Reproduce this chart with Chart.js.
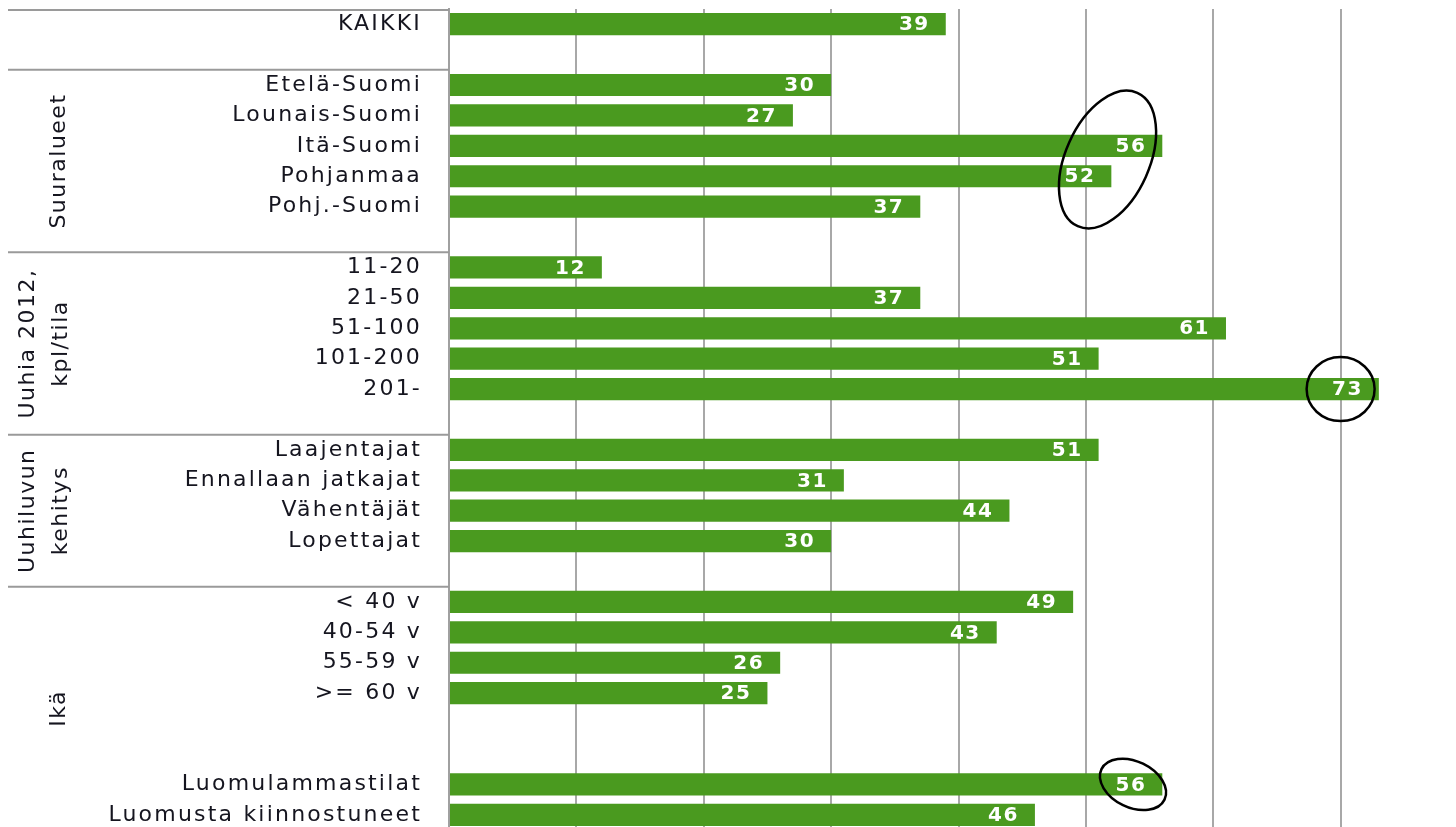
<!DOCTYPE html>
<html>
<head>
<meta charset="utf-8">
<script src="https://cdn.jsdelivr.net/npm/chart.js@4.4.0/dist/chart.umd.min.js"></script>
<style>
  html, body { margin:0; padding:0; background:#fff; overflow:hidden; }
  #wrap { width:1468px; height:830px; }
</style>
</head>
<body>
<div id="wrap"><canvas id="lammas_chart" width="1468" height="830"></canvas></div>
<script>
// rivit ("" = tyhjä väli)
let rowLabels = ["KAIKKI", "", "Etelä-Suomi", "Lounais-Suomi", "Itä-Suomi", "Pohjanmaa", "Pohj.-Suomi", "",
    "11-20", "21-50", "51-100", "101-200", "201-", "",
    "Laajentajat", "Ennallaan jatkajat", "Vähentäjät", "Lopettajat", "",
    "< 40 v", "40-54 v", "55-59 v", ">= 60 v", "", "",
    "Luomulammastilat", "Luomusta kiinnostuneet"];
let rowValues = [39, null, 30, 27, 56, 52, 37, null,
    12, 37, 61, 51, 73, null,
    51, 31, 44, 30, null,
    49, 43, 26, 25, null, null,
    56, 46];

// ryhmät: nimi (rivit), alku- ja loppuraja rivi-indekseinä
let groupNames = [["Suuralueet"], ["Uuhia 2012,", "kpl/tila"], ["Uuhiluvun", "kehitys"], ["Ikä"]];
let groupFrom = [1.5, 7.5, 13.5, 18.5];
let groupTo = [7.5, 13.5, 18.5, 26.5];

// ympyröidyt kohdat: arvo ja rivi
let circleValue = [51.7, 70, 53.7];
let circleRow = [4.45, 12, 25];

let xTicks = [0, 10, 20, 30, 40, 50, 60, 70, 80];

Chart.defaults.font.family = "'DejaVu Sans', Verdana, sans-serif";

let spacing = {
    id: "spacing",
    beforeDraw: function(chart){ chart.ctx.letterSpacing = "2.2px"; },
    afterDraw: function(chart){ chart.ctx.letterSpacing = "0px"; }
};

let groups = {
    id: "groups",
    afterDraw: function(chart){
        let ctx = chart.ctx;
        let y = chart.scales.y;
        let left = 8, right = chart.chartArea.left;
        ctx.save();
        ctx.strokeStyle = "#9a9a9a";
        ctx.lineWidth = 2;
        let lines = [chart.chartArea.top + 1];
        for(let i=0; i<groupFrom.length; i++){
            lines.push(y.getPixelForValue(groupFrom[i]));
        }
        for(let i=0; i<lines.length; i++){
            ctx.beginPath();
            ctx.moveTo(left, lines[i]);
            ctx.lineTo(right, lines[i]);
            ctx.stroke();
        }
        ctx.fillStyle = "#15151f";
        ctx.font = "22px 'DejaVu Sans'";
        ctx.letterSpacing = "1.5px";
        ctx.textAlign = "center";
        ctx.textBaseline = "middle";
        for(let i=0; i<groupNames.length; i++){
            let cy = (y.getPixelForValue(groupFrom[i]) + y.getPixelForValue(groupTo[i])) / 2;
            let names = groupNames[i];
            let xs = names.length == 1 ? [59] : [28, 61];
            for(let j=0; j<names.length; j++){
                ctx.save();
                ctx.translate(xs[j], cy);
                ctx.rotate(-Math.PI/2);
                ctx.fillText(names[j], 0, 0);
                ctx.restore();
            }
        }
        ctx.restore();
    }
};

let barLabels = {
    id: "barLabels",
    afterDatasetsDraw: function(chart){
        let ctx = chart.ctx;
        let meta = chart.getDatasetMeta(0);
        ctx.save();
        ctx.font = "bold 20px 'DejaVu Sans'";
        ctx.letterSpacing = "1.5px";
        ctx.fillStyle = "#fff";
        ctx.textAlign = "right";
        ctx.textBaseline = "middle";
        for(let i=0; i<meta.data.length; i++){
            let v = rowValues[i];
            if(v === null) continue;
            let bar = meta.data[i];
            ctx.fillText(String(v), bar.x - 16, bar.y + 1);
        }
        ctx.restore();
    }
};

let circles = {
    id: "circles",
    afterDraw: function(chart){
        let ctx = chart.ctx;
        let sizes = [[42, 73, 0.42], [34, 32, 0], [35, 23, 0.45]];
        ctx.save();
        ctx.strokeStyle = "#000";
        ctx.lineWidth = 2.5;
        for(let i=0; i<circleValue.length; i++){
            let cx = chart.scales.x.getPixelForValue(circleValue[i]);
            let cy = chart.scales.y.getPixelForValue(circleRow[i]);
            ctx.beginPath();
            ctx.ellipse(cx, cy, sizes[i][0], sizes[i][1], sizes[i][2], 0, Math.PI*2);
            ctx.stroke();
        }
        ctx.restore();
    }
};

let lammasChart = new Chart(document.getElementById("lammas_chart"), {
    type: "bar",
    plugins: [spacing, groups, barLabels, circles],
    options: {
        responsive: false,
        animation: false,
        indexAxis: "y",
        layout: { padding: { top: 9, bottom: 0, left: 0, right: 0 } },
        plugins: { legend: { display: false }, tooltip: { enabled: false } },
        scales: {
            x: {
                type: "linear",
                min: xTicks[0],
                max: xTicks[xTicks.length - 1],
                afterBuildTicks: function(scale){
                    scale.ticks = xTicks.map(function(v){ return { value: v }; });
                },
                afterFit: function(scale){ scale.height = 0; scale.paddingLeft = 0; scale.paddingRight = 0; },
                ticks: { display: false },
                border: { display: false },
                grid: {
                    drawTicks: false,
                    lineWidth: 2,
                    color: function(c){ return c.tick && c.tick.value === 0 ? "rgba(0,0,0,0)" : "#a8a8a8"; }
                }
            },
            y: {
                type: "category",
                afterFit: function(scale){
                    scale.width = 449;
                    scale.paddingTop = 0;
                    scale.paddingBottom = 0;
                },
                grid: { display: false, drawTicks: false },
                border: { display: true, color: "#a0a0a0", width: 2 },
                ticks: {
                    autoSkip: false,
                    padding: 27,
                    color: "#15151f",
                    font: { size: 22 }
                }
            }
        }
    },
    data: {
        labels: rowLabels,
        datasets: [{
            data: rowValues,
            backgroundColor: "#4a9a1f",
            borderWidth: 0,
            barPercentage: 0.73,
            categoryPercentage: 1.0
        }]
    }
});
</script>
</body>
</html>
